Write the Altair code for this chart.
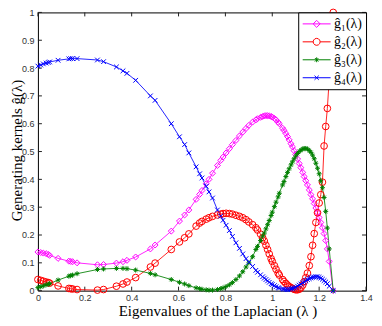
import altair as alt
import pandas as pd

# Eigenvalues (x positions of the sampled points)
lam = [0, 0.012, 0.023, 0.035, 0.044, 0.05,
       0.086, 0.132, 0.14, 0.148, 0.167,
       0.254, 0.28, 0.335, 0.363, 0.38,
       0.417, 0.48, 0.5, 0.569, 0.604,
       0.626, 0.644, 0.675, 0.69, 0.7,
       0.718, 0.73, 0.745, 0.766, 0.78,
       0.79, 0.803, 0.817, 0.83, 0.845,
       0.86, 0.874, 0.888, 0.9, 0.916,
       0.93, 0.937, 0.95, 0.959, 0.966,
       0.973, 0.98, 0.987, 0.995, 1.0,
       1.009, 1.016, 1.025, 1.03, 1.044,
       1.05, 1.058, 1.065, 1.072, 1.08,
       1.086, 1.093, 1.1, 1.108, 1.115,
       1.122, 1.13, 1.136, 1.143, 1.15,
       1.158, 1.165, 1.172, 1.179, 1.186,
       1.193, 1.2, 1.207, 1.214, 1.221,
       1.228, 1.235, 1.243, 1.26]

g1 = [0.139, 0.137, 0.135, 0.133, 0.130, 0.127,
      0.116, 0.106, 0.105, 0.104, 0.100,
      0.093, 0.094, 0.099, 0.104, 0.109,
      0.121, 0.150, 0.164, 0.214, 0.250,
      0.272, 0.290, 0.328, 0.346, 0.360,
      0.384, 0.400, 0.422, 0.450, 0.468,
      0.480, 0.495, 0.510, 0.525, 0.540,
      0.556, 0.570, 0.583, 0.594, 0.606,
      0.614, 0.618, 0.623, 0.626, 0.628,
      0.629, 0.629, 0.628, 0.626, 0.624,
      0.619, 0.614, 0.605, 0.600, 0.584,
      0.576, 0.565, 0.554, 0.542, 0.528,
      0.517, 0.503, 0.489, 0.473, 0.457,
      0.442, 0.425, 0.410, 0.395, 0.380,
      0.362, 0.345, 0.330, 0.313, 0.297,
      0.280, 0.263, 0.245, 0.226, 0.205,
      0.180, 0.150, 0.105, 0.0]

g2 = [0.040, 0.037, 0.034, 0.031, 0.029, 0.027,
      0.017, 0.008, 0.007, 0.006, 0.004,
      0.002, 0.004, 0.016, 0.024, 0.031,
      0.047, 0.085, 0.099, 0.148, 0.175,
      0.190, 0.204, 0.232, 0.243, 0.249,
      0.257, 0.262, 0.267, 0.272, 0.275,
      0.277, 0.278, 0.277, 0.275, 0.271,
      0.267, 0.262, 0.255, 0.247, 0.237,
      0.226, 0.218, 0.203, 0.190, 0.178,
      0.163, 0.148, 0.132, 0.115, 0.105,
      0.090, 0.077, 0.063, 0.056, 0.040,
      0.033, 0.026, 0.020, 0.015, 0.011,
      0.008, 0.005, 0.003, 0.003, 0.005,
      0.010, 0.020, 0.032, 0.047, 0.063,
      0.090, 0.122, 0.163, 0.205, 0.245,
      0.280, 0.315, 0.345, 0.390, 0.520,
      0.590, 0.655, 0.760, 1.0]

g3 = [0.011, 0.014, 0.017, 0.021, 0.023, 0.025,
      0.038, 0.052, 0.054, 0.056, 0.061,
      0.076, 0.078, 0.080, 0.080, 0.079,
      0.074, 0.062, 0.057, 0.040, 0.030,
      0.024, 0.018, 0.010, 0.007, 0.005,
      0.003, 0.002, 0.002, 0.004, 0.007,
      0.010, 0.015, 0.021, 0.029, 0.040,
      0.053, 0.068, 0.085, 0.100, 0.122,
      0.148, 0.159, 0.180, 0.196, 0.207,
      0.222, 0.237, 0.252, 0.270, 0.282,
      0.302, 0.318, 0.337, 0.350, 0.380,
      0.392, 0.410, 0.425, 0.438, 0.452,
      0.463, 0.474, 0.484, 0.493, 0.500,
      0.505, 0.509, 0.511, 0.511, 0.509,
      0.504, 0.497, 0.487, 0.474, 0.458,
      0.440, 0.420, 0.395, 0.370, 0.335,
      0.285, 0.225, 0.150, 0.0]

g4 = [0.807, 0.811, 0.815, 0.818, 0.820, 0.822,
      0.828, 0.833, 0.834, 0.834, 0.834,
      0.829, 0.823, 0.804, 0.790, 0.781,
      0.756, 0.700, 0.684, 0.600, 0.553,
      0.525, 0.495, 0.445, 0.420, 0.405,
      0.375, 0.355, 0.333, 0.290, 0.268,
      0.253, 0.235, 0.216, 0.195, 0.172,
      0.152, 0.132, 0.115, 0.102, 0.087,
      0.073, 0.066, 0.057, 0.050, 0.045,
      0.040, 0.035, 0.030, 0.025, 0.022,
      0.018, 0.014, 0.011, 0.009, 0.006,
      0.005, 0.004, 0.004, 0.005, 0.006,
      0.008, 0.010, 0.012, 0.016, 0.020,
      0.024, 0.028, 0.032, 0.036, 0.040,
      0.043, 0.046, 0.048, 0.049, 0.050,
      0.050, 0.048, 0.045, 0.041, 0.036,
      0.031, 0.025, 0.016, 0.0]

labels = ["ĝ₁(λ)", "ĝ₂(λ)", "ĝ₃(λ)", "ĝ₄(λ)"]
colors = ["#ff00ff", "#ff0000", "#008000", "#0000ff"]
x_ticks = [0, 0.2, 0.4, 0.6, 0.8, 1.0, 1.2, 1.4]
y_ticks = [0, 0.1, 0.2, 0.3, 0.4, 0.5, 0.6, 0.7, 0.8, 0.9, 1.0]

W, H = 329, 279

rows = []
for name, vals in zip(labels, [g1, g2, g3, g4]):
    for l, v in zip(lam, vals):
        rows.append({"lam": l, "g": v, "series": name})
df = pd.DataFrame(rows)

xs = alt.Scale(domain=[0, 1.4], nice=False, zero=False)
ys = alt.Scale(domain=[0, 1], nice=False, zero=False)
cs = alt.Scale(domain=labels, range=colors)

marker_shapes = [
    ("diamond", 36),
    ("circle", 45),
    ("M0,-1V1M-1,0H1M-0.7,-0.7L0.7,0.7M-0.7,0.7L0.7,-0.7", 25),
    ("M-1,-1L1,1M-1,1L1,-1", 22),
]
# legend symbols: a line segment with the series marker in the middle
circ = ("0.5,0L0.433,0.25L0.25,0.433L0,0.5L-0.25,0.433L-0.433,0.25L-0.5,0"
        "L-0.433,-0.25L-0.25,-0.433L0,-0.5L0.25,-0.433L0.433,-0.25Z")
legend_paths = [
    "M-2,0H2M-0.5,0L0,-0.5L0.5,0L0,0.5Z",
    "M-2,0H-0.5M0.5,0H2M" + circ,
    "M-2,0H2M0,-0.35V0.35M-0.25,-0.25L0.25,0.25M-0.25,0.25L0.25,-0.25",
    "M-2,0H2M-0.3,-0.3L0.3,0.3M-0.3,0.3L0.3,-0.3",
]

TF = "Liberation Serif"
x_axis = alt.Axis(values=x_ticks, format=".1~f", title="Eigenvalues of the Laplacian (λ )",
                  titleFont=TF, titleFontSize=15, titleFontWeight="normal",
                  titleColor="black", titleX=180, titleY=20, titleBaseline="middle",
                  titleAlign="center", labelFont="Liberation Sans", labelFontSize=9,
                  labelColor="#333333", labelPadding=3, ticks=False, tickSize=0,
                  domain=False, grid=False, labelFlush=False, labelOverlap=False)
y_axis = alt.Axis(values=y_ticks, format=".1~f", title="Generating kernels ĝ(λ)",
                  titleFont=TF, titleFontSize=15, titleFontWeight="normal",
                  titleColor="black", titleX=-21, titleY=138, titleAngle=270,
                  titleBaseline="middle", titleAlign="center",
                  labelFont="Liberation Sans", labelFontSize=9, labelColor="#333333",
                  labelPadding=4, ticks=False, tickSize=0, domain=False, grid=False,
                  labelFlush=False, labelOverlap=False)

line_layers = []
point_layers = []
for name, col, (shp, sz) in zip(labels, colors, marker_shapes):
    base = alt.Chart(df).transform_filter(alt.datum.series == name)
    line_layers.append(
        base.mark_line(strokeWidth=1, color=col, opacity=0.85)
        .encode(x=alt.X("lam:Q", scale=xs, axis=x_axis), y=alt.Y("g:Q", scale=ys, axis=y_axis))
    )
    point_layers.append(
        base.mark_point(shape=shp, size=sz, filled=False, strokeWidth=1, color=col, opacity=1)
        .encode(x=alt.X("lam:Q", scale=xs, axis=x_axis), y=alt.Y("g:Q", scale=ys, axis=y_axis))
    )

leg = alt.Legend(title=None, orient="top-right", offset=0, padding=4,
                 strokeColor="black", fillColor="white",
                 labelFont=TF, labelFontSize=14, labelColor="black",
                 symbolSize=196, symbolStrokeWidth=1, symbolOffset=7,
                 labelOffset=10, rowPadding=3)

legend_layer = alt.Chart(pd.DataFrame({"series": labels})).transform_filter(
    alt.datum.series == "none"
).mark_point(filled=False, strokeWidth=1, opacity=1, size=196).encode(
    color=alt.Color("series:N", scale=cs, legend=leg),
    shape=alt.Shape("series:N", scale=alt.Scale(domain=labels, range=legend_paths), legend=leg),
)

xt = pd.DataFrame({"v": x_ticks})
yt = pd.DataFrame({"v": y_ticks})
tick_color = "#222222"
tb = alt.Chart(xt).mark_rule(color=tick_color, strokeWidth=1).encode(
    x=alt.X("v:Q", scale=xs, axis=x_axis), y=alt.value(H), y2=alt.value(H - 4))
tt = alt.Chart(xt).mark_rule(color=tick_color, strokeWidth=1).encode(
    x=alt.X("v:Q", scale=xs, axis=x_axis), y=alt.value(0), y2=alt.value(4))
tl = alt.Chart(yt).mark_rule(color=tick_color, strokeWidth=1).encode(
    y=alt.Y("v:Q", scale=ys, axis=y_axis), x=alt.value(0), x2=alt.value(4))
tr = alt.Chart(yt).mark_rule(color=tick_color, strokeWidth=1).encode(
    y=alt.Y("v:Q", scale=ys, axis=y_axis), x=alt.value(W), x2=alt.value(W - 4))

chart = alt.layer(tb, tt, tl, tr, *line_layers, *point_layers, legend_layer).properties(
    width=W, height=H,
    autosize=alt.AutoSizeParams(type="none"),
    padding={"left": 30, "top": 4, "right": 8, "bottom": 30},
).configure_view(stroke="black", strokeWidth=1)

chart.save("out.html", embed_options={"renderer": "svg", "actions": False})
